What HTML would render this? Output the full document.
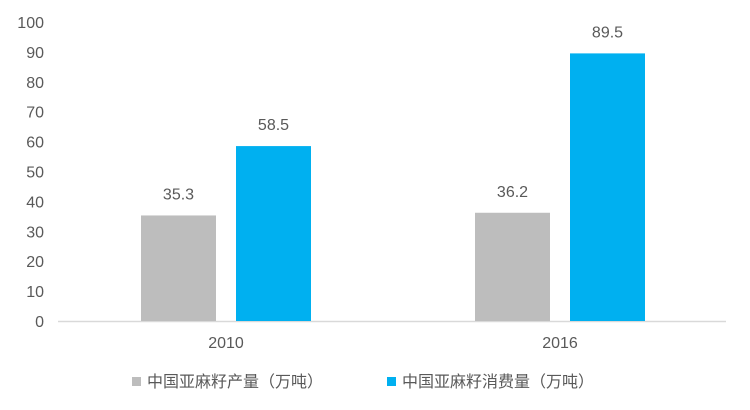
<!DOCTYPE html>
<html><head><meta charset="utf-8"><style>
html,body{margin:0;padding:0;background:#fff;width:750px;height:410px;overflow:hidden}
text{font-family:"Liberation Sans","Noto Sans CJK SC",sans-serif;fill:#595959}
</style></head><body>
<svg id="chart" width="750" height="410" xmlns="http://www.w3.org/2000/svg"></svg>
<script>
const categories=["2010","2016"];
const production=[35.3,36.2];
const consumption=[58.5,89.5];
const yTicks=[0,10,20,30,40,50,60,70,80,90,100];
const seriesNames=["中国亚麻籽产量（万吨）","中国亚麻籽消费量（万吨）"];
const colors=["#bdbdbd","#00b0f0"];
const svg=document.getElementById('chart');
const NS='http://www.w3.org/2000/svg';
const x0=58,x1=726,y0=321,y1=22;
const y=v=>y0-(v/100)*(y0-y1);
const catW=(x1-x0)/categories.length;
const cx=i=>x0+catW*(i+0.5)+1;
function mk(tag,attrs){const e=document.createElementNS(NS,tag);for(const k in attrs)e.setAttribute(k,attrs[k]);svg.appendChild(e);return e;}
yTicks.forEach(t=>{
 const e=mk('text',{x:44,y:y(t)+6,'text-anchor':'end','font-size':16});
 
 
 e.textContent=t;
});
const ax=mk('line',{x1:x0,x2:x1,y1:y0+0.5,y2:y0+0.5,stroke:'#d9d9d9','stroke-width':1.5});


const bw=75,gap=20;
[production,consumption].forEach((s,si)=>{
 s.forEach((v,i)=>{
  const bx=cx(i)+(si===0?-(bw+gap/2):gap/2);
  const r=mk('rect',{x:bx,y:y(v),width:bw,height:y0-y(v),fill:colors[si]});
  
  
  const l=mk('text',{x:bx+bw/2,y:y(v)-16,'text-anchor':'middle','font-size':16});
  
  
  l.textContent=v.toFixed(1);
 });
});
categories.forEach((c,i)=>{
 const t=mk('text',{x:cx(i),y:348,'text-anchor':'middle','font-size':16});
 
 
 t.textContent=c;
});
const lx=[132,387];
seriesNames.forEach((n,i)=>{
 const r=mk('rect',{x:lx[i],y:377,width:9,height:9,fill:colors[i]});
 
 
 const t=mk('text',{x:lx[i]+15,y:387,'font-size':16});
 
 
 t.textContent=n;
});
</script>
</body></html>
